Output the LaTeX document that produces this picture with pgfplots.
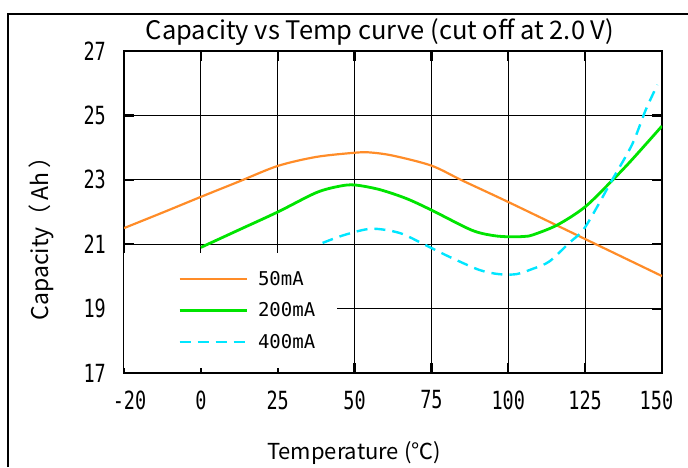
\documentclass[border=0pt]{standalone}
\usepackage{pgfplots}
\pgfplotsset{compat=1.18}
\usepackage{fontspec}
\setmainfont{Noto Sans CJK JP}
\newfontfamily\tickfont{DejaVu Sans Mono}
\definecolor{corange}{RGB}{255,140,40}
\definecolor{cgreen}{RGB}{0,228,0}
\definecolor{ccyan}{RGB}{0,230,255}
\begin{document}
\begin{tikzpicture}[x=1pt,y=1pt]
\useasboundingbox (0,0) rectangle (688,467);
\draw[line width=1.2pt] (8,0) -- (8,453) -- (688,453);
\node[anchor=base, font=\fontsize{25.5}{28}\selectfont] at (380,427) {Capacity vs Temp curve (cut off at 2.0 V)};
\begin{axis}[
  at={(124pt,94pt)}, anchor=south west,
  width=538pt, height=322pt, scale only axis,
  xmin=-25, xmax=150, ymin=17, ymax=27,
  xtick={-25,0,25,50,75,100,125,150},
  xticklabels={{\hphantom{0}-20},0,25,50,75,100,125,{150\hphantom{0}}},
  ytick={17,19,21,23,25,27},
  yticklabels={{\raisebox{-4pt}{17}},19,21,23,25,{\raisebox{-6pt}{27}}},
  grid=major,
  major grid style={line width=1.2pt, black},
  axis line style={line width=2pt},
  tick align=inside,
  major tick length=10pt,
  tick style={line width=2.2pt, black},
  tick label style={font=\tickfont\fontsize{25}{25}\selectfont, xscale=0.74},
  xticklabel style={yshift=-14pt},
  yticklabel style={xshift=-21pt},
  xlabel={Temperature (℃)},
  ylabel={Capacity（\,Ah\,）},
  every axis x label/.style={at={(axis description cs:0.4275,-0.27)}, anchor=base, font=\fontsize{22}{26}\selectfont},
  every axis y label/.style={at={(axis description cs:-0.154,0.435)}, rotate=90, anchor=center, font=\fontsize{23}{26}\selectfont},
  legend cell align=left,
  legend image code/.code={\path (0pt,0pt); \draw[#1] (34pt,0pt) -- (101pt,0pt);},
  legend style={at={(axis description cs:0,0.0155)}, anchor=south west,
    fill=white, draw=none, inner xsep=20pt, inner ysep=16pt,
    row sep=12pt, font=\tickfont\fontsize{19}{19}\selectfont,
    /tikz/every odd column/.append style={column sep=8pt}},
]
\addplot[corange, line width=2.2pt, smooth, tension=0.5] coordinates {
(-25,21.5) (-12.5,21.98) (0,22.47) (12.5,22.95) (25,23.43) (37.5,23.71) (50,23.84) (55,23.85) (62.5,23.75) (75,23.44) (85,22.98) (100,22.31) (125,21.16) (150,20.01)
};
\addlegendentry{50mA}
\addplot[cgreen, line width=2.8pt, smooth, tension=0.5] coordinates {
(0,20.9) (12.5,21.45) (25,22.0) (37.5,22.6) (45,22.8) (50,22.84) (58,22.7) (66.8,22.42) (75,22.06) (88,21.44) (95,21.27) (100.3,21.23) (105,21.24) (108,21.29) (116,21.6) (125,22.16) (134,23.0) (140,23.6) (150,24.67)
};
\addlegendentry{200mA}
\addplot[ccyan, line width=2.4pt, dash pattern=on 11pt off 7pt, smooth, tension=0.5] coordinates {
(39.6,21.04) (46.8,21.29) (55.5,21.48) (64.6,21.35) (72.7,20.99) (80.8,20.61) (90.6,20.2) (97,20.07) (102.6,20.07) (107.8,20.23) (113.3,20.46) (119.8,21.04) (125,21.53) (133.8,23.0) (140.3,24.1) (144.7,25.17) (148.5,25.95)
};
\addlegendentry{400mA}
\end{axis}
\end{tikzpicture}
\end{document}
